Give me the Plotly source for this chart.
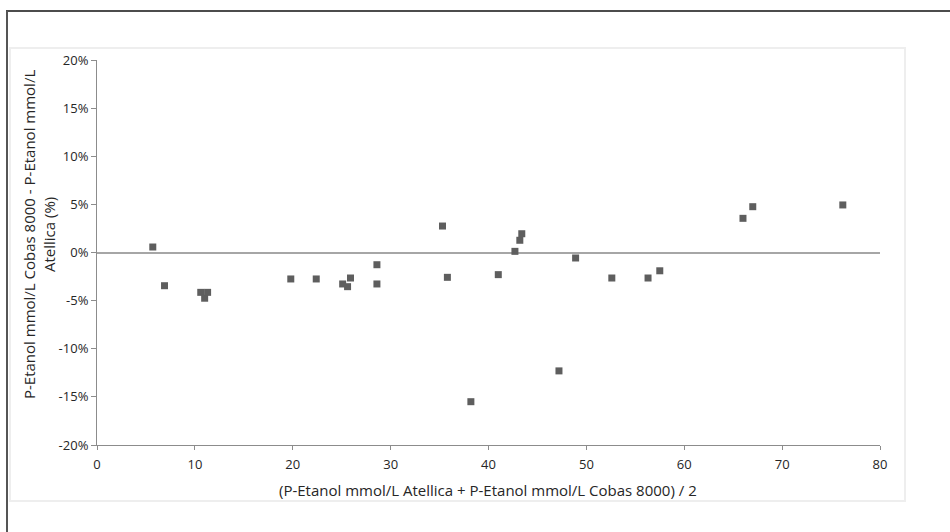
import plotly.graph_objects as go

# Mean of the two methods (mmol/L)
mean_vals = [5.7, 6.9, 10.6, 11.0, 11.3, 19.8, 22.4, 25.1, 25.6, 25.9, 28.6, 28.6,
             35.3, 35.8, 38.2, 41.0, 42.7, 43.2, 43.4, 47.2, 48.9, 52.6, 56.3, 57.5,
             66.0, 67.0, 76.2]
# Relative difference (fraction)
diff_vals = [0.0057, -0.0345, -0.0414, -0.0475, -0.0414, -0.0275, -0.0275, -0.0327,
             -0.0355, -0.0265, -0.0127, -0.0327, 0.0275, -0.0258, -0.155, -0.023,
             0.0012, 0.0127, 0.0195, -0.123, -0.0057, -0.0265, -0.0265, -0.019,
             0.0355, 0.0476, 0.0494]

x_ticks = [0, 10, 20, 30, 40, 50, 60, 70, 80]
y_ticks = [-0.20, -0.15, -0.10, -0.05, 0.0, 0.05, 0.10, 0.15, 0.20]
y_tick_text = ["-20%", "-15%", "-10%", "-5%", "0%", "5%", "10%", "15%", "20%"]

x_title = "(P-Etanol mmol/L Atellica + P-Etanol mmol/L Cobas 8000) / 2"
y_title = "P-Etanol mmol/L Cobas 8000 - P-Etanol mmol/L<br>Atellica (%)"

FONT = "Open Sans, Liberation Sans, sans-serif"
W, H = 950, 532
L, R, T, B = 97, 70, 60, 87
PW, PH = W - L - R, H - T - B


def px(xp):
    return (xp - L) / PW


def py(yp):
    return (H - B - yp) / PH


fig = go.Figure()
fig.add_trace(go.Scatter(
    x=mean_vals, y=diff_vals, mode="markers",
    marker=dict(symbol="square", size=7, color="#5e5e5e",
                line=dict(width=0)),
    hoverinfo="x+y", showlegend=False,
))

axis_col = "#8c8c8c"
fig.update_xaxes(range=[0, 80], tickvals=x_ticks, showgrid=False, zeroline=False,
                 showline=True, linecolor=axis_col, linewidth=1,
                 ticks="outside", ticklen=4, tickcolor=axis_col,
                 ticklabelstandoff=3,
                 tickfont=dict(family=FONT, size=13, color="#262626"))
fig.update_yaxes(range=[-0.2, 0.2], tickvals=y_ticks, ticktext=y_tick_text,
                 showgrid=False, zeroline=True, zerolinecolor="#a6a6a6",
                 zerolinewidth=1.5,
                 showline=True, linecolor=axis_col, linewidth=1,
                 ticks="outside", ticklen=5, tickcolor=axis_col,
                 tickfont=dict(family=FONT, size=13, color="#262626"))

shapes = [
    # inner chart-area box
    dict(type="rect", xref="paper", yref="paper",
         x0=px(10), x1=px(905), y0=py(501), y1=py(48),
         line=dict(color="#eeeeee", width=2), layer="below"),
    # outer top border
    dict(type="line", xref="paper", yref="paper",
         x0=px(6), x1=px(950), y0=py(11), y1=py(11),
         line=dict(color="#111111", width=1.5)),
    # outer left border
    dict(type="line", xref="paper", yref="paper",
         x0=px(7), x1=px(7), y0=py(11), y1=py(532),
         line=dict(color="#555555", width=2)),
]

annotations = [
    dict(text=x_title, xref="paper", yref="paper", x=px(488), y=py(490),
         showarrow=False, xanchor="center", yanchor="middle",
         font=dict(family=FONT, size=15, color="#262626")),
    dict(text=y_title, xref="paper", yref="paper", x=px(39), y=py(235),
         showarrow=False, xanchor="center", yanchor="middle", textangle=-90,
         font=dict(family=FONT, size=15, color="#262626")),
]

fig.update_layout(
    width=W, height=H,
    margin=dict(l=L, r=R, t=T, b=B),
    paper_bgcolor="white", plot_bgcolor="white",
    shapes=shapes, annotations=annotations,
    font=dict(family=FONT, color="#262626"),
)

fig.write_html("out.html")
